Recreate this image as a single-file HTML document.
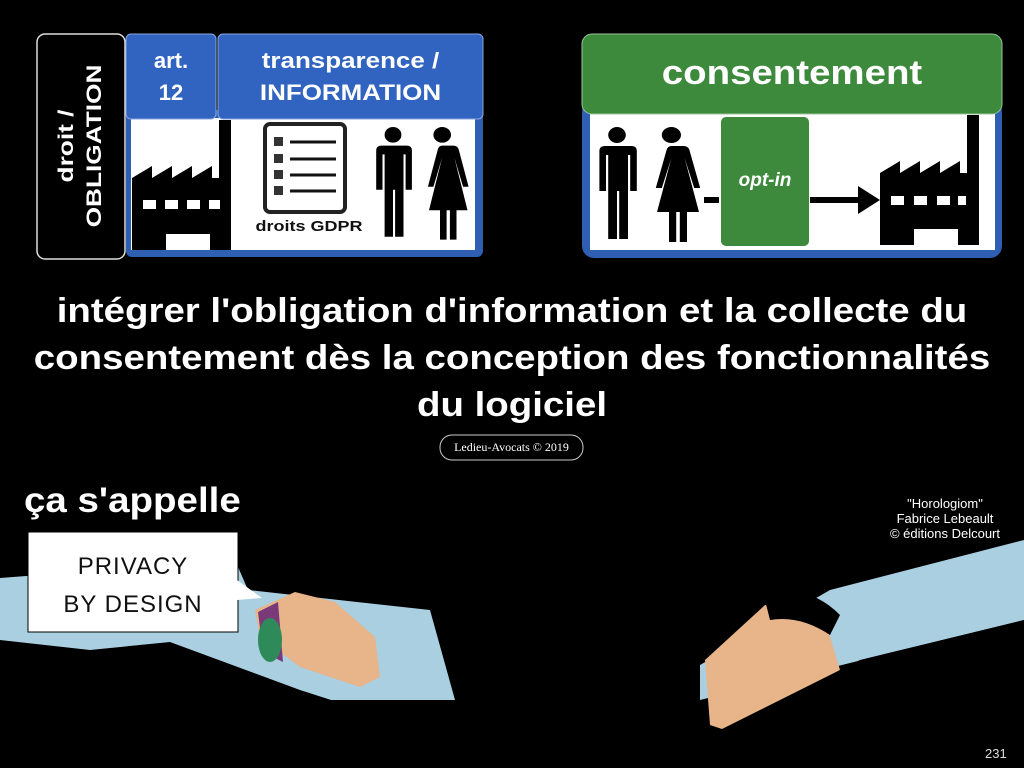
<!DOCTYPE html>
<html><head><meta charset="utf-8"><style>
html,body{margin:0;padding:0;background:#000;}
body{width:1024px;height:768px;position:relative;overflow:hidden;font-family:"Liberation Sans",sans-serif;}
.a{position:absolute;}
.w{color:#fff;font-weight:bold;}
.s{display:inline-block;}
</style></head><body>
<svg class="a" style="left:0;top:0" width="1024" height="768" viewBox="0 0 1024 768">
<defs>
<g id="man"><circle cx="20" cy="9" r="8"/><path d="M7 20 h26 q5 0 5 5 v40 h-6 v-36 h-2 v84 h-8 v-48 h-2 v48 h-8 v-84 h-2 v36 h-6 v-40 q0-5 5-5z"/></g>
<g id="woman"><circle cx="22" cy="9" r="8"/><path d="M12 20 h20 q4 0 5 4 l9 38 h-5 l-8-30 l12 54 h-10 v30 h-6 v-30 h-3 v30 h-6 v-30 h-10 l12-54 l-8 30 h-5 l9-38 q1-4 4-4z"/></g>
<g id="fac"><path d="M0 130 V58 L20 46 V58 L40 46 V58 L60 46 V58 L80 46 V58 H87 V0 H99 V130 H78 V114 H34 V130 Z"/></g>
</defs>
<!-- left box -->
<rect x="37" y="34" width="88" height="225" rx="8" fill="#000" stroke="#ddd" stroke-width="1.5"/>
<rect x="126" y="110" width="357" height="147" rx="6" fill="#2f5fb3"/>
<rect x="131" y="118" width="344" height="132" fill="#fff"/>
<rect x="126" y="34" width="90" height="85" rx="5" fill="#3163c0" stroke="#8aa6dc"/>
<rect x="218" y="34" width="265" height="85" rx="5" fill="#3163c0" stroke="#8aa6dc"/>
<use href="#fac" transform="translate(132,120)"/>
<rect x="143" y="200" width="13" height="9" fill="#fff"/><rect x="165" y="200" width="13" height="9" fill="#fff"/><rect x="187" y="200" width="13" height="9" fill="#fff"/><rect x="209" y="200" width="11" height="9" fill="#fff"/>
<rect x="265" y="124" width="80" height="88" rx="5" fill="#fff" stroke="#222" stroke-width="4"/>
<g fill="#333"><rect x="274" y="137" width="9" height="9"/><rect x="274" y="154" width="9" height="9"/><rect x="274" y="170" width="9" height="9"/><rect x="274" y="186" width="9" height="9"/></g>
<g stroke="#111" stroke-width="3"><line x1="290" y1="142" x2="336" y2="142"/><line x1="290" y1="159" x2="336" y2="159"/><line x1="290" y1="175" x2="336" y2="175"/><line x1="290" y1="191" x2="336" y2="191"/></g>
<use href="#man" transform="translate(372,126) scale(1.05,0.98)"/>
<use href="#woman" transform="translate(418,126) scale(1.1,0.98)"/>
<!-- right box -->
<rect x="582" y="100" width="420" height="158" rx="12" fill="#2f5fb3"/>
<rect x="590" y="112" width="405" height="138" fill="#fff"/>
<rect x="582" y="34" width="420" height="80" rx="10" fill="#3d8a3d" stroke="#9bc49b"/>
<rect x="721" y="117" width="88" height="129" rx="5" fill="#3d8a3d"/>
<use href="#man" transform="translate(595,126) scale(1.1,1.0)"/>
<use href="#woman" transform="translate(645,126) scale(1.2,1.0)"/>
<rect x="704" y="197" width="15" height="6" fill="#000"/>
<rect x="810" y="197" width="52" height="6" fill="#000"/>
<path d="M858 186 L880 200 L858 214z" fill="#000"/>
<use href="#fac" transform="translate(880,115) scale(1.0,1.0)"/>
<rect x="891" y="196" width="13" height="9" fill="#fff"/><rect x="914" y="196" width="13" height="9" fill="#fff"/><rect x="937" y="196" width="13" height="9" fill="#fff"/><rect x="958" y="196" width="8" height="9" fill="#fff"/>
<!-- comic -->
<polygon points="0,578 235,560 248,590 430,610 455,700 0,700" fill="#a9cfe0"/>
<path d="M255 610 l40-18 l40 10 l40 35 l5 40 l-20 10 l-60 -20 l-40 -30z" fill="#e8b48a"/>
<path d="M258 612 l20-10 l5 60 l-20 -10z" fill="#7a3a7a"/>
<ellipse cx="270" cy="640" rx="12" ry="22" fill="#2f8a5a"/>
<polygon points="0,640 90,650 170,642 300,690 440,735 0,735" fill="#000"/>
<polygon points="700,700 700,665 830,590 1024,540 1024,620" fill="#a9cfe0"/>
<path d="M705 660 l60-55 l60 15 l15 50 l-40 40 l-60 25 l-30 -10z" fill="#e8b48a"/>
<path d="M765 600 q40-20 75 15 l-10 20 q-30-20 -60-15z" fill="#000"/>
<polygon points="720,730 860,660 1024,620 1024,768 720,768" fill="#000"/>
<polygon points="0,735 440,735 470,768 0,768" fill="#000"/>
<rect x="28" y="532" width="210" height="100" fill="#fff" stroke="#000"/>
<polygon points="237,580 262,598 237,600" fill="#fff"/>
<rect x="440" y="435" width="143" height="25" rx="12" fill="#000" stroke="#ccc"/>
</svg>
<div class="a w" style="left:37px;top:34px;width:88px;height:225px;">
 <div style="position:absolute;left:44px;top:112px;transform:translate(-50%,-50%) rotate(-90deg) scaleX(1.25);white-space:nowrap;text-align:center;font-size:21px;line-height:28px;">droit /<br>OBLIGATION</div></div>
<div class="a w" style="left:126px;top:45px;width:90px;text-align:center;font-size:22px;line-height:32px;">art.<br>12</div>
<div class="a w" style="left:218px;top:45px;width:265px;text-align:center;font-size:22px;line-height:32px;transform:scaleX(1.18);">transparence /<br>INFORMATION</div>
<div class="a" style="left:250px;top:218px;width:118px;text-align:center;font-size:15px;font-weight:bold;color:#111;transform:scaleX(1.2);">droits GDPR</div>
<div class="a w" style="left:582px;top:54px;width:420px;text-align:center;font-size:34px;transform:scaleX(1.13);">consentement</div>
<div class="a w" style="left:721px;top:170px;width:88px;text-align:center;font-size:19px;font-style:italic;">opt-in</div>
<div class="a w" style="left:0;top:288px;width:1024px;text-align:center;font-size:34px;line-height:47px;transform:scaleX(1.13);">intégrer l'obligation d'information et la collecte du<br>consentement dès la conception des fonctionnalités<br>du logiciel</div>
<div class="a" style="left:440px;top:440px;width:143px;text-align:center;font-family:'Liberation Serif',serif;font-size:12px;color:#fff;">Ledieu-Avocats © 2019</div>
<div class="a w" style="left:24px;top:481px;font-size:35px;transform:scaleX(1.1);transform-origin:left;">ça s'appelle</div>
<div class="a" style="left:28px;top:548px;width:210px;text-align:center;font-size:24px;line-height:38px;letter-spacing:1px;color:#111;">PRIVACY<br>BY DESIGN</div>
<div class="a" style="left:880px;top:496px;width:130px;text-align:center;font-size:13px;line-height:15px;color:#fff;">"Horologiom"<br>Fabrice Lebeault<br>© éditions Delcourt</div>
<div class="a" style="left:985px;top:746px;font-size:13px;color:#ddd;">231</div>
</body></html>
